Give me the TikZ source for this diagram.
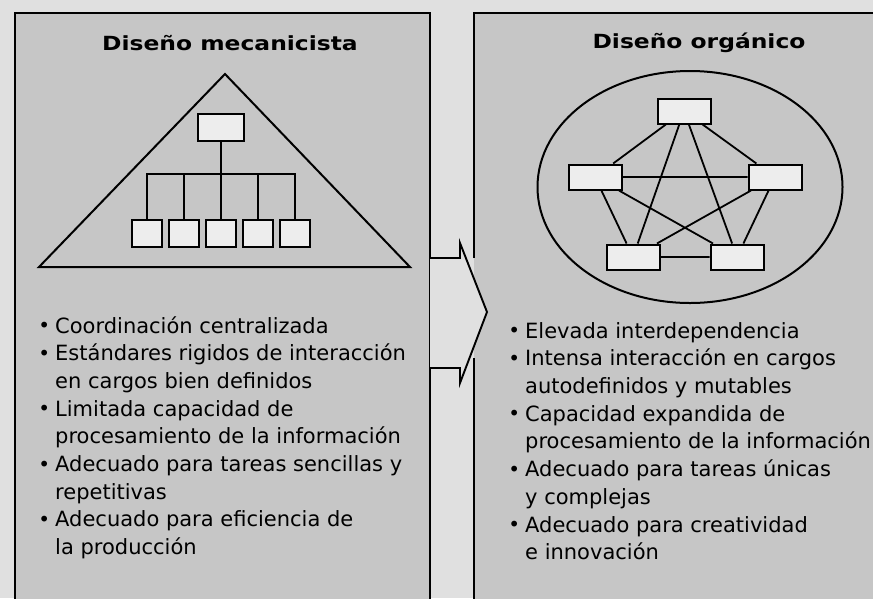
\documentclass[tikz,border=0pt]{standalone}
\usepackage{fontspec}
\setmainfont{DejaVu Sans}
\usepackage{graphicx}
\usetikzlibrary{shapes.geometric}
\definecolor{diseOuter}{HTML}{E0E0E0}
\definecolor{diseInner}{HTML}{C6C6C6}
\definecolor{diseCell}{HTML}{EDEDED}
\newcommand{\bul}{\llap{\raisebox{0.5pt}{\scalebox{0.95}{\textbullet}}\hspace{5pt}}}

\begin{document}
\begin{tikzpicture}[x=1pt,y=-1pt,
    panel/.style={draw=black,line width=1.9pt},
    cell/.style={draw=black,line width=2pt,fill=diseCell,
                 minimum width=30pt,minimum height=27pt,inner sep=0pt},
    ocell/.style={cell,minimum width=53pt,minimum height=25pt},
    link/.style={line width=1.8pt},
    heading/.style={font=\bfseries\fontsize{19.5}{22}\selectfont,inner sep=0pt},
    points/.style={font=\fontsize{21}{27.7}\selectfont,align=left,
                   inner sep=0pt,anchor=north west}]
  \useasboundingbox (0,0) rectangle (873,598);
  \fill[diseOuter] (0,0) rectangle (873,598);
  % two panels, cut by the page
  \fill[diseInner] (15,13) rectangle (430,600);
  \draw[panel] (15,600) -- (15,13) -- (430,13) -- (430,600);
  \fill[diseInner] (474,13) rectangle (875,600);
  \draw[panel] (474,600) -- (474,358);
  \draw[panel] (474,258) -- (474,13) -- (875,13);
  % block arrow between the panels
  \filldraw[panel,fill=diseOuter,line join=miter]
    (430,258) -- (460,258) -- (460,243) -- (487,312) -- (460,383)
    -- (460,368) -- (430,368);

  \node[heading] (tmec) at (230,43) {\scalebox{1.2}[1]{Diseño mecanicista}};
  \node[heading] (torg) at (699,43) {\scalebox{1.2}[1]{Diseño orgánico}};

  % mechanistic: pyramid with hierarchy
  \draw[line width=2pt,line join=miter] (225,74) -- (410,267) -- (39,267) -- cycle;
  \node[cell,minimum width=46pt] (boss) at (221,127.5) {};
  \node[cell] (w1) at (147,233.5) {};
  \node[cell] (w2) at (184,233.5) {};
  \node[cell] (w3) at (221,233.5) {};
  \node[cell] (w4) at (258,233.5) {};
  \node[cell] (w5) at (295,233.5) {};
  \coordinate (bus) at (221,174);
  \draw[link] (boss) -- (w3);
  \draw[link] (w1.north) |- (bus) -| (w5.north);
  \draw[link] (w2.north) -- (w2.north |- bus);
  \draw[link] (w4.north) -- (w4.north |- bus);

  % organic: everyone linked inside an ellipse
  \node[draw,ellipse,line width=2pt,minimum width=305pt,minimum height=232pt,
        inner sep=0pt] (ring) at (690,187) {};
  \node[ocell] (pt) at (684,111) {};
  \node[ocell] (pl) at (595,177) {};
  \node[ocell] (pr) at (775,177) {};
  \node[ocell] (pbl) at (633,257) {};
  \node[ocell] (pbr) at (737,257) {};
  \draw[link] (pt) -- (pl) (pt) -- (pr) (pt) -- (pbl) (pt) -- (pbr)
              (pl) -- (pr) (pl) -- (pbl) (pl) -- (pbr)
              (pr) -- (pbl) (pr) -- (pbr) (pbl) -- (pbr);

  \node[points] (lmec) at (55,316) {
    \bul Coordinación centralizada\\
    \bul Estándares rigidos de interacción\\
    en cargos bien definidos\\
    \bul Limitada capacidad de\\
    procesamiento de la información\\
    \bul Adecuado para tareas sencillas y\\
    repetitivas\\
    \bul Adecuado para eficiencia de\\
    la producción};
  \node[points] (lorg) at (525,322) {
    \bul Elevada interdependencia\\
    \bul Intensa interacción en cargos\\
    autodefinidos y mutables\\
    \bul Capacidad expandida de\\
    procesamiento de la información\\
    \bul Adecuado para tareas únicas\\
    y complejas\\
    \bul Adecuado para creatividad\\
    e innovación};
\end{tikzpicture}
\end{document}
